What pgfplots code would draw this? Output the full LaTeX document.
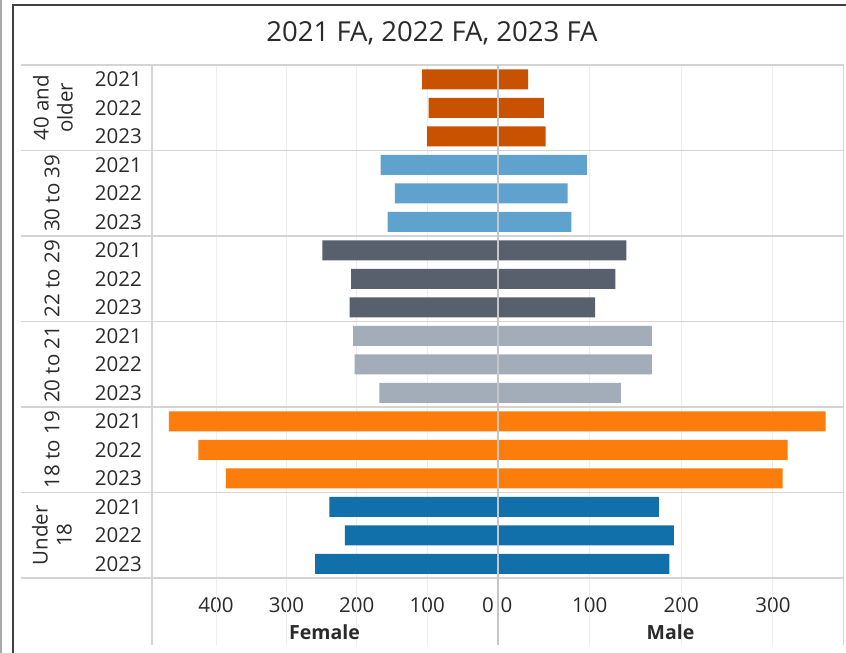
\documentclass[border=0pt]{standalone}
\usepackage{pgfplots}
\pgfplotsset{compat=1.18}
\usepackage{fontspec}
\setmainfont{Open Sans}
\definecolor{c40}{HTML}{C85200}
\definecolor{c30}{HTML}{5FA2CE}
\definecolor{c22}{HTML}{57606C}
\definecolor{c20}{HTML}{A3ACB9}
\definecolor{c18}{HTML}{FC7D0B}
\definecolor{cU}{HTML}{1170AA}
\definecolor{gridc}{HTML}{EDEDED}
\definecolor{divc}{HTML}{D4D4D4}
\definecolor{zeroc}{HTML}{C6C6C6}
\definecolor{txt}{HTML}{2A2A2A}
\newcommand{\lab}{\fontsize{20.5}{24}\selectfont}
\pgfplotsset{
  pyr/.style={
    scale only axis, width=345.5pt, height=513pt,
    anchor=north west,
    ymin=-0.5, ymax=17.5, y dir=reverse,
    ytick=\empty,
    xbar, bar width=20pt, bar shift=0pt,
    axis line style={draw=none},
    major tick length=0pt,
    clip=false,
    /pgf/number format/assume math mode=true,
    xticklabel style={font=\lab, text=txt, inner sep=0pt, yshift=-19pt},
  }
}
\begin{document}
\begin{tikzpicture}[x=1pt,y=1pt]
% frame
\fill[white] (0,0) rectangle (846,-653);
\draw[black!35, line width=2pt] (1,0) -- (1,-653);
\draw[black!75, line width=1.5pt] (13,-653) -- (13,-5) -- (846,-5);
% title
\node[font=\fontsize{27.5}{32}\selectfont, text=txt] at (432,-33) {2021 FA, 2022 FA, 2023 FA};

% Female
\begin{axis}[pyr, at={(152pt,-65pt)}, xmin=0, xmax=491, x dir=reverse,
  xtick={100,200,300,400},
  extra x ticks={0},
  extra x tick style={xticklabel style={anchor=north east, xshift=-3.5pt}},
]
\foreach \v in {100,200,300,400}{
  \edef\tmp{\noexpand\draw[gridc, line width=1pt] (axis cs:\v,-0.5) -- (axis cs:\v,19.85);}\tmp
}
\addplot[fill=c40, draw=none] coordinates {(107,0) (98,1) (100,2)};
\addplot[fill=c30, draw=none] coordinates {(166,3) (146,4) (156,5)};
\addplot[fill=c22, draw=none] coordinates {(249,6) (208,7) (210,8)};
\addplot[fill=c20, draw=none] coordinates {(205,9) (203,10) (168,11)};
\addplot[fill=c18, draw=none] coordinates {(467,12) (425,13) (386,14)};
\addplot[fill=cU, draw=none] coordinates {(239,15) (217,16) (259,17)};
\end{axis}

% Male
\begin{axis}[pyr, at={(498pt,-65pt)}, xmin=0, xmax=377,
  xtick={100,200,300},
  extra x ticks={0},
  extra x tick style={xticklabel style={anchor=north west, xshift=2.5pt}},
]
\foreach \v in {100,200,300}{
  \edef\tmp{\noexpand\draw[gridc, line width=1pt] (axis cs:\v,-0.5) -- (axis cs:\v,19.85);}\tmp
}
\addplot[fill=c40, draw=none] coordinates {(33,0) (50,1) (52,2)};
\addplot[fill=c30, draw=none] coordinates {(97,3) (76,4) (80,5)};
\addplot[fill=c22, draw=none] coordinates {(140,6) (128,7) (106,8)};
\addplot[fill=c20, draw=none] coordinates {(168,9) (168,10) (134,11)};
\addplot[fill=c18, draw=none] coordinates {(357.5,12) (316,13) (310.5,14)};
\addplot[fill=cU, draw=none] coordinates {(175.5,15) (192,16) (187,17)};
\end{axis}

% dividers
\foreach \k in {0,...,6}{
  \draw[divc, line width=1.6pt] (21,{-65-85.5*\k}) -- (843.5,{-65-85.5*\k});
}
\draw[divc, line width=1.6pt] (152,-65) -- (152,-645);
\draw[divc, line width=1.6pt] (843.5,-65) -- (843.5,-645);
\draw[zeroc, line width=2pt] (498,-65) -- (498,-645);

% year labels
\foreach \i in {0,...,5}{
  \foreach \j/\yr in {0/2021,1/2022,2/2023}{
    \node[font=\lab, text=txt, anchor=east, inner sep=0pt] at (142,{-65-28.5*(3*\i+\j+0.5)}) {\yr};
  }
}
% group labels
\node[font=\lab, text=txt, rotate=90, align=center] at (53,-107.75) {\baselineskip=30pt 40 and\\older};
\node[font=\lab, text=txt, rotate=90] at (52,-193.25) {30 to 39};
\node[font=\lab, text=txt, rotate=90] at (52,-278.75) {22 to 29};
\node[font=\lab, text=txt, rotate=90] at (52,-364.25) {20 to 21};
\node[font=\lab, text=txt, rotate=90] at (52,-449.75) {18 to 19};
\node[font=\lab, text=txt, rotate=90, align=center] at (52,-535.25) {\baselineskip=29pt Under\\18};

% axis titles
\node[font=\fontsize{19.5}{23}\selectfont\bfseries, text=txt] at (324.5,-632) {Female};
\node[font=\fontsize{19.5}{23}\selectfont\bfseries, text=txt] at (670.5,-632) {Male};

\pgfresetboundingbox
\useasboundingbox (0,0) rectangle (846,-653);
\end{tikzpicture}
\end{document}
